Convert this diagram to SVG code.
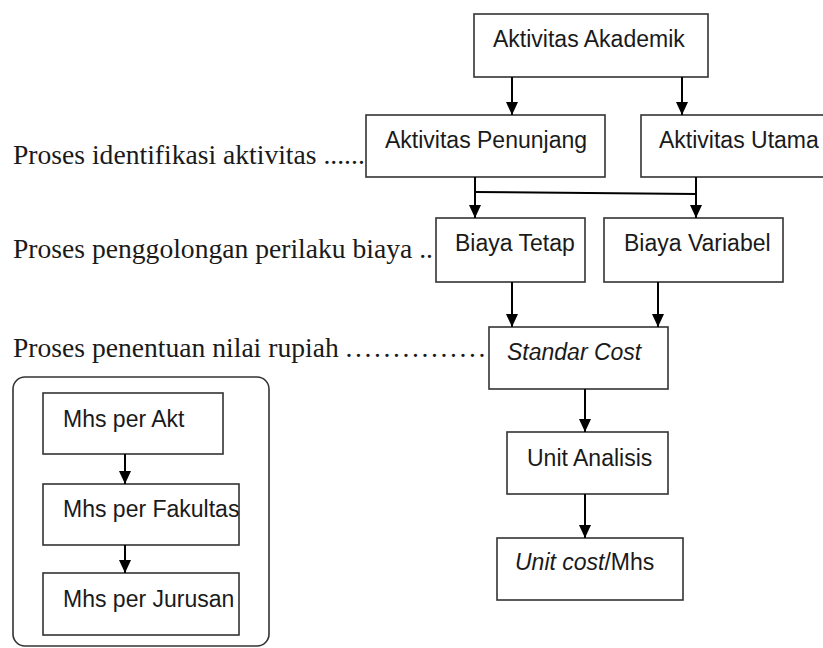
<svg xmlns="http://www.w3.org/2000/svg" width="823" height="648" viewBox="0 0 823 648">
<style>
.box{fill:#fff;stroke:#333;stroke-width:1.6}
.t{font-family:"Liberation Sans",Arial,sans-serif;font-size:23px;fill:#1a1a1a}
.s{font-family:"Liberation Serif","Times New Roman",serif;font-size:27.6px;fill:#1a1a1a}
.c{fill:none;stroke:#000;stroke-width:2}
</style>
<defs>
<marker id="ah" markerUnits="userSpaceOnUse" markerWidth="12" markerHeight="13" refX="13" refY="6" orient="auto">
<path d="M0,0 L13,6 L0,12 z" fill="#000"/>
</marker>
</defs>
<rect width="823" height="648" fill="#fff"/>
<g id="labels">
<text class="s" x="13" y="164">Proses identifikasi aktivitas ......</text>
<text class="s" x="13" y="258">Proses penggolongan perilaku biaya ..</text>
<text class="s" x="13" y="357">Proses penentuan nilai rupiah <tspan letter-spacing="2.6">...............</tspan></text>
</g>
<g id="container">
<rect x="13" y="377" width="256" height="269" rx="12" fill="none" stroke="#333" stroke-width="1.6"/>
</g>
<g id="akademik"><rect class="box" x="474" y="14" width="234" height="63"/><text class="t" x="493" y="47">Aktivitas Akademik</text></g>
<g id="penunjang"><rect class="box" x="366" y="115" width="239" height="62"/><text class="t" x="385" y="148">Aktivitas Penunjang</text></g>
<g id="utama"><rect class="box" x="641" y="115" width="200" height="62"/><text class="t" x="659" y="148">Aktivitas Utama</text></g>
<g id="tetap"><rect class="box" x="436" y="218" width="149" height="64"/><text class="t" x="455" y="251">Biaya Tetap</text></g>
<g id="variabel"><rect class="box" x="604" y="218" width="179" height="64"/><text class="t" x="624" y="251">Biaya Variabel</text></g>
<g id="standar"><rect class="box" x="489" y="327" width="179" height="62"/><text class="t" x="507" y="360" font-style="italic">Standar Cost</text></g>
<g id="analisis"><rect class="box" x="507" y="432" width="161" height="62"/><text class="t" x="527" y="466">Unit Analisis</text></g>
<g id="unitcost"><rect class="box" x="497" y="538" width="186" height="62" stroke-width="2.2"/><text class="t" x="515" y="570"><tspan font-style="italic">Unit cost</tspan>/Mhs</text></g>
<g id="akt"><rect class="box" x="43" y="393" width="180" height="61"/><text class="t" x="63" y="427">Mhs per Akt</text></g>
<g id="fakultas"><rect class="box" x="43" y="484" width="196" height="61"/><text class="t" x="63" y="517">Mhs per Fakultas</text></g>
<g id="jurusan"><rect class="box" x="43" y="573" width="196" height="62"/><text class="t" x="63" y="607">Mhs per Jurusan</text></g>
<g id="connectors">
<line class="c" x1="512" y1="77" x2="512" y2="115" marker-end="url(#ah)"/>
<line class="c" x1="682" y1="77" x2="682" y2="115" marker-end="url(#ah)"/>
<line class="c" x1="475" y1="177" x2="475" y2="218" marker-end="url(#ah)"/>
<line class="c" x1="696" y1="177" x2="696" y2="218" marker-end="url(#ah)"/>
<line class="c" x1="475" y1="192" x2="696" y2="194"/>
<line class="c" x1="512" y1="282" x2="512" y2="327" marker-end="url(#ah)"/>
<line class="c" x1="658" y1="282" x2="658" y2="327" marker-end="url(#ah)"/>
<line class="c" x1="585" y1="389" x2="585" y2="432" marker-end="url(#ah)"/>
<line class="c" x1="585" y1="494" x2="585" y2="538" marker-end="url(#ah)"/>
<line class="c" x1="125" y1="454" x2="125" y2="484" marker-end="url(#ah)"/>
<line class="c" x1="125" y1="545" x2="125" y2="573" marker-end="url(#ah)"/>
</g>
</svg>
